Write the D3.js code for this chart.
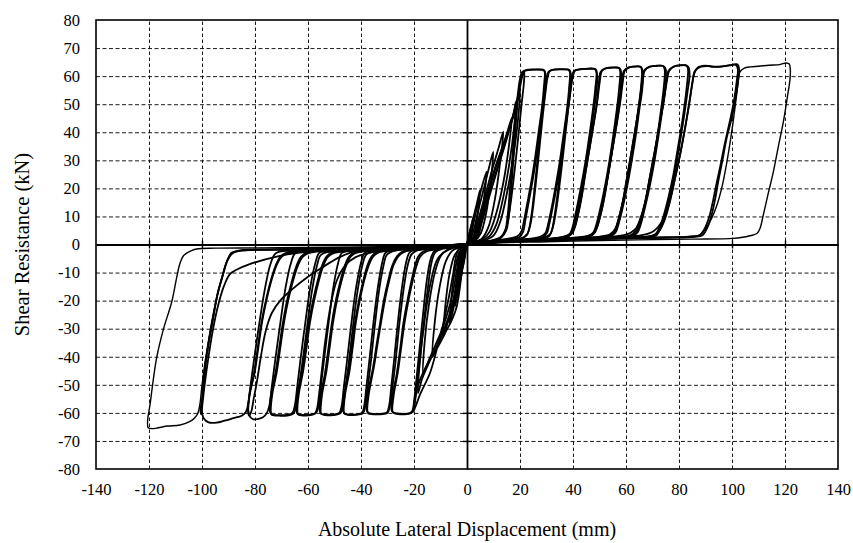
<!DOCTYPE html>
<html>
<head>
<meta charset="utf-8">
<script src="https://cdn.jsdelivr.net/npm/d3@7"></script>
<style>
    body { margin: 0; background: #fff; }
    text { font-family: "Liberation Serif", "Times New Roman", serif; fill: #000; }
</style>
</head>
<body>
<div id="chart"></div>
<script>
//Ticks
let xTicks = [-140, -120, -100, -80, -60, -40, -20, 0, 20, 40, 60, 80, 100, 120, 140];
let yTicks = [-80, -70, -60, -50, -40, -30, -20, -10, 0, 10, 20, 30, 40, 50, 60, 70, 80];

//Ciclos pequeños cerca del origen [desplazamiento mm, fuerza kN]
let loopSmall1 = [[0,0],[0.8,3.5],[1.7,7],[2.5,10],[2.1,6],[1.4,2.5],[0.6,0.8],[0,0],[-0.5,-2.5],[-1,-5.5],[-1.5,-8],[-1.2,-5],[-0.6,-2],[0,0]];
let loopSmall2 = [[0,0],[1,4.5],[2.5,10],[3.8,15],[4.9,19.4],[4.3,13],[3.3,6],[2.2,2.2],[1,0.8],[0,0],[-0.8,-4],[-1.8,-9],[-3,-15],[-2.6,-9],[-1.9,-4],[-1,-1.2],[0,0]];
let loopSmall3 = [[0,0.3],[1.5,4],[3,10],[4.3,15.5],[5.6,20.5],[7.4,26],[6.6,18],[5.2,9],[3.6,3.5],[2,1.2],[0,0],[-1,-4],[-2,-10],[-3.3,-16.5],[-4.5,-22],[-4,-14],[-3,-6.5],[-1.8,-2],[0,-0.3]];
let loopSmall4 = [[0,0.3],[2,3.5],[3.5,9],[5,15],[6.5,20.5],[8.2,27],[9.9,33],[9,23],[7.2,11],[5.2,4],[3,1.3],[0,0],[-1.2,-4],[-2.5,-11],[-4,-18],[-5.3,-23.5],[-6.5,-28],[-5.8,-18],[-4.3,-8],[-2.8,-2.5],[-1,-0.8],[0,0]];
let loopSmall5 = [[0,0.3],[2.5,3],[4,8],[5.8,14],[7.6,20],[9.6,27],[11.8,34],[13.7,40.2],[12.6,30],[10.5,16],[8,6],[5.5,2],[2.5,0.8],[0,0],[-1.5,-3],[-2.7,-10],[-4,-17],[-5.8,-23.5],[-7.5,-28.5],[-9,-33],[-8.2,-22],[-6.5,-10],[-4.5,-3.5],[-2,-1],[0,0]];
let loopSmall6 = [[0,0.3],[3,2.5],[4.5,7],[6.5,13.5],[8.5,20],[10.5,26.5],[12.8,33],[15,39.5],[16.9,45],[15.8,35],[13.7,22],[11,11],[8.5,4.5],[6,2],[3,1],[0,0],[-2,-2.5],[-3.2,-9],[-4.6,-17],[-6.5,-24.5],[-8.8,-30.5],[-11,-35.5],[-13,-40],[-12.2,-28],[-10.3,-15],[-8,-6],[-5.5,-2.2],[-2.5,-1],[0,0]];
let loopSmall7 = [[0,0.3],[3.5,2.5],[5,7],[7,13.5],[9.2,20.5],[11.5,27.5],[13.8,34.5],[16,41.5],[17.5,46.5],[18.5,51],[17.8,42],[16,29],[13.5,16],[11,7],[8.5,3],[5,1.3],[0,0],[-2.5,-2.5],[-3.8,-9],[-5.3,-17],[-7.2,-24],[-9.5,-30.5],[-12,-36],[-14.5,-41.5],[-16.5,-46],[-16,-35],[-14.3,-21],[-12,-9.5],[-9.5,-3.5],[-5.5,-1.3],[0,0]];
let loopSmall8 = [[0,0.3],[3.8,2.5],[5.5,7.5],[7.6,14.5],[9.8,21.5],[12.2,29],[14.5,36],[16.6,43],[18.4,49.5],[20,55],[19.4,46],[17.6,32],[15,18],[12.5,8],[10,3.2],[6,1.3],[0,0],[-2.2,-3],[-3.3,-11],[-4.8,-19.5],[-6.8,-26.5],[-9.5,-32.5],[-12.3,-38],[-15,-43.5],[-17,-48],[-18.5,-53],[-17.8,-42],[-16,-27],[-13.6,-13],[-11,-5],[-7,-1.7],[0,0]];

//Ciclos grandes (primer ciclo de cada amplitud)
let loop20 = [[0,0],[2.5,1.5],[4,6],[6,13],[8.5,21],[11,28.5],[13.5,35],[15.8,41],[17.6,46],[19,51.5],[20.2,57],[21,60.5],[21.6,61.8],
    [21.5,58],[20.6,50],[19.3,38],[17.8,25],[16.2,13],[14.6,5.5],[12.5,2.5],[9,1.4],[5,0.9],[2,0.4],[0,0],
    [-0.8,-2],[-2,-10.3],[-3.9,-22.2],[-6,-27.5],[-7.7,-30.5],[-11,-36.5],[-14,-41],[-16.5,-45.5],[-18.4,-50],[-19.6,-55],[-20.3,-59.6],
    [-17.5,-53],[-14,-45.9],[-11.3,-37],[-8.9,-28],[-6.9,-19],[-5.2,-10.3],[-4.3,-5],[-3.3,-2],[-1.5,-0.8],[0,0]];
let loop30 = [[0,0],[4,0.7],[9,1.1],[12.5,2.2],[14.3,4.6],[15.3,10],[16.2,20],[17.2,32],[18.1,43.8],[19.1,53],[20,59],[20.8,61.4],[22.5,62.2],[25,62.4],[27.5,62.4],[29,62.2],[29.6,61],
    [29.5,56],[28.8,49.7],[27.6,41],[26.3,31.9],[24.7,22.5],[23.1,14.1],[22,8.5],[21.2,4.6],[19.8,2.7],[16,1.8],[10,1.2],[5,0.8],[0,0.2],
    [-4,-0.8],[-9,-1.2],[-12.3,-2.3],[-13.8,-5.5],[-15.2,-13],[-16.6,-25],[-18,-38],[-19.2,-49],[-20,-56],[-20.6,-59.2],[-22,-60.2],[-25,-60.3],[-27.5,-60],[-28.4,-59.3],
    [-28.1,-54],[-26.5,-45.9],[-25.2,-37],[-24,-28],[-22.5,-20],[-20.9,-12.7],[-19.6,-7.5],[-18.4,-4.3],[-16.5,-2.5],[-13,-1.7],[-8,-1.1],[-3,-0.5],[0,0]];
let loop38 = [[0,0],[6,0.8],[14,1.3],[20,1.9],[22.5,3.2],[23.4,5.5],[24.4,11],[25.5,20],[26.8,32],[28,43.5],[29.2,53],[30,59],[30.8,61.6],[32.5,62.3],[35,62.5],[37.5,62.4],[38.7,62.2],[39.2,60.5],
    [39,55],[38.2,48.5],[36.9,39.5],[35.5,30],[33.8,20.5],[32.2,12.5],[31,7],[30.2,4.2],[28.5,2.6],[24,1.9],[16,1.4],[8,0.9],[0,0.2],
    [-6,-0.8],[-14,-1.3],[-20,-1.8],[-21.8,-3],[-23,-6.5],[-24.5,-15],[-26,-27],[-27.4,-40],[-28.6,-51],[-29.4,-57.5],[-30.2,-59.8],[-32,-60.3],[-35,-60.4],[-37,-60.1],[-37.8,-59.3],
    [-37.5,-54],[-35.4,-43.5],[-34,-35],[-32.8,-28],[-31.3,-19.5],[-29.7,-12.7],[-28.2,-7.5],[-26.5,-4.3],[-24.5,-2.6],[-20,-1.8],[-12,-1.2],[-5,-0.7],[0,0]];
let loop48 = [[0,0],[8,0.9],[18,1.4],[28,2],[31,3],[32,5],[33,10],[34.3,19],[35.8,31],[37.3,43],[38.6,53],[39.5,59],[40.3,61.8],[42.5,62.4],[45,62.6],[47.5,62.6],[48.6,62.4],[49.1,60.5],
    [48.9,55],[48,48.5],[46.7,39.5],[45.2,30],[43.4,20.5],[41.7,12.5],[40.4,7],[39.5,4.2],[37.5,2.7],[32,2],[22,1.5],[10,1],[0,0.2],
    [-8,-0.9],[-18,-1.4],[-28,-1.9],[-30.8,-3],[-32,-6.5],[-33.6,-15],[-35.2,-27],[-36.7,-40],[-38,-51],[-38.8,-57.5],[-39.6,-60],[-41.5,-60.5],[-44,-60.6],[-46,-60.3],[-46.7,-59.5],
    [-46.4,-54],[-44.8,-45.9],[-43.5,-37],[-42.3,-28],[-40.7,-19.5],[-39.1,-12.7],[-37.6,-7.5],[-36,-4.3],[-34,-2.7],[-28,-1.9],[-18,-1.3],[-8,-0.8],[0,0]];
let loop57 = [[0,0],[10,1],[22,1.5],[34,2.1],[38.5,3],[40.1,4.6],[41.3,8.5],[42.6,14.1],[44.2,23],[45.8,31.9],[47.4,41],[48.9,49.7],[49.7,57],[50.4,61.5],[52,62.7],[55,63],[57,63],[57.9,62.4],[58.2,60],
    [57.9,55],[57,48.5],[55.7,39.5],[54.2,30],[52.4,20.5],[50.6,12.5],[49.2,7],[48.2,4.2],[46,2.7],[40,2.1],[28,1.6],[14,1.1],[0,0.2],
    [-10,-1],[-22,-1.5],[-35,-2],[-38.6,-3],[-40,-6.5],[-41.8,-15],[-43.5,-27],[-45.1,-40],[-46.5,-51],[-47.3,-57.5],[-48.2,-60],[-50.5,-60.6],[-53,-60.6],[-55,-60.3],[-55.5,-59.5],
    [-55.2,-54],[-53.6,-45.9],[-52.3,-37],[-51,-28],[-49.4,-19.5],[-47.7,-12.7],[-46.1,-7.5],[-44.5,-4.3],[-42.3,-2.8],[-35,-2],[-22,-1.4],[-10,-0.9],[0,0]];
let loop65 = [[0,0],[12,1],[25,1.6],[40,2.2],[46.5,3],[48.5,4.8],[49.8,8.5],[51.2,14],[52.9,23],[54.5,32],[56.1,41],[57.6,50],[58.4,57],[59.2,61.8],[61,63.1],[63.5,63.4],[65.3,63.4],[66.1,62.6],[66.4,60],
    [66.1,55],[65.1,48.5],[63.8,39.5],[62.2,30],[60.4,20.5],[58.6,12.5],[57.1,7],[56,4.2],[53.7,2.8],[47,2.2],[34,1.7],[16,1.1],[0,0.2],
    [-12,-1],[-26,-1.5],[-42,-2],[-47.2,-3],[-48.6,-6.5],[-50.4,-15],[-52.1,-27],[-53.8,-40],[-55.2,-51],[-56,-57.5],[-56.9,-60],[-59,-60.6],[-62,-60.7],[-63.8,-60.4],[-64.3,-59.6],
    [-64,-54],[-62.4,-45.9],[-61,-37],[-59.7,-28],[-58,-19.5],[-56.3,-12.7],[-54.7,-7.5],[-53,-4.3],[-50.8,-2.8],[-42,-2],[-28,-1.4],[-12,-0.9],[0,0]];
let loop75 = [[0,0],[14,1],[30,1.7],[47,2.3],[53.5,3.1],[55.6,4.8],[57,8.5],[58.5,14],[60.2,23],[61.9,32],[63.5,41],[65,50],[65.9,57],[66.7,61.8],[68.5,63.2],[71,63.6],[73.5,63.7],[74.8,63],[75.1,60],
    [74.8,55],[73.8,48.5],[72.4,39.5],[70.8,30],[68.9,20.5],[67,12.5],[65.5,7],[64.3,4.2],[62,2.8],[55,2.3],[40,1.8],[20,1.2],[0,0.2],
    [-14,-1],[-30,-1.5],[-49,-2],[-55.7,-3],[-57.2,-6.5],[-59.1,-15],[-60.9,-27],[-62.7,-40],[-64.1,-51],[-65,-57.5],[-65.9,-60],[-68,-60.7],[-71,-60.8],[-73.6,-60.6],[-74.3,-59.8],
    [-74,-54],[-72.3,-45.9],[-70.9,-37],[-69.5,-28],[-67.8,-19.5],[-66,-12.7],[-64.3,-7.5],[-62.6,-4.3],[-60.2,-2.8],[-50,-2],[-34,-1.4],[-14,-0.9],[0,0]];
let loop84 = [[0,0],[16,1.1],[34,1.8],[52,2.4],[61.5,3.2],[63.8,5],[65.3,8.5],[67,14],[68.8,23],[70.6,32],[72.3,41],[74,50],[75,57],[76,61.8],[78,63.4],[80.5,63.8],[82.5,63.9],[83.6,63.2],[84,60.4],
    [83.3,55],[82.5,49.5],[81.6,43.8],[80.1,35],[78.5,25.9],[76.6,17.5],[74.7,10.5],[73.2,6.2],[71.6,3.4],[69,2.6],[60,2.3],[45,1.9],[22,1.3],[0,0.2],
    [-16,-1],[-34,-1.5],[-56,-2],[-64.7,-3],[-66.4,-6.5],[-68.4,-15],[-70.3,-27],[-72.2,-40],[-73.7,-51],[-74.6,-57.5],[-75.5,-60],[-77,-61.6],[-79,-62.2],[-80.6,-62.3],[-81.8,-61.5],[-82.5,-59.3],
    [-82.2,-54],[-80.4,-45.9],[-79,-37],[-77.6,-28],[-75.8,-19.5],[-74,-12.7],[-72.2,-7.5],[-70.4,-4.3],[-67.8,-2.8],[-58,-2],[-38,-1.4],[-16,-0.9],[0,0]];
let loop102 = [[0,0],[18,1.1],[38,1.9],[58,2.5],[70,3.2],[72.5,4.8],[74.5,8.5],[76.5,15],[78.6,24],[80.6,33],[82.4,42],[84,51],[85,57.5],[86,61.8],[88,63.3],[91,63.6],[94,63.4],[97,63.6],[100,64],[102,64.2],[102.7,62.5],
    [102.5,60],[101.5,53],[100,45.5],[98,38],[96.4,30],[94.8,22.4],[93.5,15.5],[92.3,10.5],[90.7,6],[89,3.4],[86,2.7],[75,2.4],[55,2.1],[30,1.5],[0,0.2],
    [-18,-1],[-38,-1.5],[-60,-2.1],[-72,-3],[-74,-6.5],[-76.1,-15],[-78.2,-27],[-80.2,-40],[-81.8,-51],[-82.6,-57],[-83.5,-59.8],[-85,-61],[-88.2,-61.9],[-91.5,-62.8],[-94.5,-63.5],[-97.5,-63.4],[-99.3,-62],[-100.1,-59],
    [-99.8,-54],[-98.9,-44],[-97.5,-35],[-95.7,-25.5],[-94,-17],[-92,-10.5],[-90.3,-5.5],[-88.5,-3],[-85,-2],[-72,-1.7],[-50,-1.4],[-20,-0.9],[0,0]];
let loop122 = [[0,0],[20,1.2],[45,1.9],[70,2.5],[84,2.9],[88,3.4],[90.3,6],[92.3,9.3],[94.3,14],[96.1,20],[98,29],[99.9,40.2],[101.3,50],[102.3,57.5],[103,61.5],[104.5,62.8],[107,63.3],[110,63.5],[114,63.9],[118,64.1],[120.5,64.7],[121.6,64.3],[122,62.5],
    [121.9,59],[120.8,52],[119.4,43.8],[117.5,35],[115.6,25.9],[113.5,17.5],[111.8,10.5],[110.6,5.8],[109.5,4],[108,3.4],[104,2.6],[100.5,2.2],[85,1.9],[60,1.6],[30,1],[0,0.2],
    [-20,-0.9],[-45,-1.4],[-70,-1.9],[-85,-2.2],[-89,-3],[-90.6,-6],[-92,-10],[-93.9,-17],[-95.7,-24.5],[-97.4,-33.5],[-98.9,-42.3],[-100.1,-51],[-100.8,-57],[-101.6,-60.2],[-102.8,-61.8],[-104.5,-63],[-108.3,-64.3],[-113,-64.7],[-116.5,-65.3],[-119,-65.6],[-120.3,-65.3],[-120.5,-62.5],
    [-119.6,-57],[-118.5,-49],[-117.1,-40.3],[-114.5,-30],[-111.4,-20.4],[-109.6,-12],[-108.3,-6.7],[-107,-4],[-105.8,-3.1],[-104,-2.2],[-102,-1.6],[-95,-1.3],[-80,-1.2],[-50,-1],[-20,-0.6],[0,0]];

//Ciclos repetidos de cada amplitud
let loop30b = [[0,0],[5,0.9],[10,1.4],[13,2.6],[14.8,5],[15.9,11],[16.8,21],[17.7,33],[18.6,45],[19.5,54],[20.3,59.5],[21.2,61.6],[23,62.1],[26,62.3],[28.3,62.2],[29.2,61.8],
    [29,56],[28.3,49],[27,40],[25.7,31],[24.2,22],[22.6,14],[21.5,8.5],[20.6,4.8],[19,2.9],[15,2],[9,1.3],[4,0.8],[0,0.2],
    [-4,-0.9],[-9,-1.5],[-12,-2.8],[-13.4,-6.5],[-14.7,-15],[-16.2,-27],[-17.7,-40],[-18.9,-50],[-19.7,-56.5],[-20.4,-59.5],[-22,-60.4],[-25,-60.5],[-27.3,-60.2],[-28.1,-59.5],
    [-27.7,-54],[-26.1,-45.5],[-24.8,-36.5],[-23.5,-27.5],[-22,-19.5],[-20.4,-12.5],[-19,-7.5],[-17.8,-4.5],[-15.5,-2.6],[-12,-1.8],[-7,-1.2],[-3,-0.6],[0,0]];
let loop38b = [[0,0],[7,1],[15,1.5],[20.5,2.2],[22.8,3.8],[23.9,7],[24.9,13],[26,22],[27.3,34],[28.5,45],[29.6,54],[30.4,59.5],[31.3,61.9],[33,62.3],[36,62.4],[38.2,62.3],[38.8,61.5],
    [38.5,55.5],[37.7,48],[36.4,39],[35,29.5],[33.3,20],[31.7,12],[30.5,6.8],[29.6,4.1],[27.8,2.8],[23,2],[15,1.5],[7,1],[0,0.2],
    [-6,-1],[-13,-1.5],[-19,-2.2],[-21,-3.6],[-22.4,-7.5],[-24,-16.5],[-25.6,-29],[-27,-42],[-28.3,-52],[-29.2,-58],[-30,-60],[-32.5,-60.5],[-35.5,-60.5],[-37.2,-60.2],[-37.6,-59.3],
    [-37.1,-53.5],[-35,-43],[-33.6,-34.5],[-32.3,-27],[-30.8,-19],[-29.2,-12.3],[-27.7,-7.3],[-26,-4.3],[-23.8,-2.7],[-19,-1.9],[-11,-1.3],[-5,-0.8],[0,0]];
let loop48b = [[0,0],[9,1],[19,1.6],[28.5,2.3],[31.3,3.6],[32.5,6.5],[33.6,12],[34.9,21],[36.4,33],[37.8,45],[39,54],[39.9,59.5],[40.8,62],[43,62.5],[46,62.7],[48.1,62.6],[48.8,61.5],
    [48.4,55.5],[47.5,48],[46.2,39],[44.7,29.5],[42.9,20],[41.2,12],[40,6.8],[39,4.1],[37,2.9],[31,2.1],[21,1.6],[9,1.1],[0,0.2],
    [-8,-1],[-17,-1.5],[-27,-2.2],[-30.2,-3.6],[-31.5,-7.5],[-33.2,-16.5],[-34.8,-29],[-36.3,-42],[-37.6,-52],[-38.5,-58],[-39.3,-60.2],[-42,-60.7],[-45,-60.7],[-46.3,-60.3],[-46.5,-59.5],
    [-46,-53.5],[-44.4,-45.5],[-43.1,-36.5],[-41.9,-27.5],[-40.3,-19.2],[-38.7,-12.5],[-37.1,-7.5],[-35.5,-4.4],[-33.3,-2.8],[-27,-2],[-17,-1.4],[-8,-0.9],[0,0]];
let loop57b = [[0,0],[11,1.1],[23,1.7],[34.5,2.4],[38.8,3.6],[40.6,6],[41.9,10.5],[43.3,17],[44.8,26],[46.4,35],[48,44],[49.3,52],[50.1,58],[50.9,61.8],[52.5,62.8],[55.5,63.1],[57.3,62.9],[57.8,61.8],
    [57.4,55.5],[56.5,48],[55.2,39],[53.7,29.5],[51.9,20],[50.1,12],[48.7,6.8],[47.6,4.2],[45.3,2.9],[39,2.2],[27,1.7],[13,1.1],[0,0.2],
    [-10,-1.1],[-21,-1.6],[-34,-2.2],[-38,-3.6],[-39.5,-7.5],[-41.3,-16.5],[-43,-29],[-44.6,-42],[-46,-52],[-46.9,-58],[-47.8,-60.2],[-50.5,-60.8],[-53.5,-60.8],[-55,-60.4],[-55.2,-59.6],
    [-54.7,-53.5],[-53.1,-45.5],[-51.8,-36.5],[-50.5,-27.5],[-48.9,-19.2],[-47.2,-12.5],[-45.6,-7.5],[-44,-4.4],[-41.6,-2.9],[-34,-2.1],[-21,-1.5],[-10,-1],[0,0]];
let loop65b = [[0,0],[13,1.1],[26,1.8],[41,2.5],[47,3.6],[49,6],[50.4,10.5],[51.9,17],[53.5,26],[55.1,35],[56.7,44],[58,52],[58.8,58],[59.6,62],[61.5,63.2],[64,63.5],[65.6,63.3],[66,62],
    [65.6,55.5],[64.6,48],[63.3,39],[61.7,29.5],[59.9,20],[58.1,12],[56.6,6.8],[55.5,4.2],[53,3],[46,2.3],[33,1.8],[15,1.2],[0,0.2],
    [-12,-1.1],[-25,-1.7],[-36,-2.8],[-42,-4.5],[-46,-7.5],[-49.2,-13],[-51.5,-22],[-53.3,-33],[-54.8,-45],[-55.9,-54],[-56.6,-58.5],[-57.5,-60.3],[-60,-60.9],[-62.5,-60.9],[-63.8,-60.5],[-64,-59.6],
    [-63.5,-53.5],[-61.9,-45.5],[-60.5,-36.5],[-59.2,-27.5],[-57.5,-19.2],[-55.8,-12.5],[-54.2,-7.5],[-52.5,-4.4],[-50,-3],[-41,-2.1],[-27,-1.5],[-12,-1],[0,0]];
let loop75b = [[0,0],[15,1.1],[31,1.9],[48,2.6],[54,3.6],[56.2,6],[57.6,10.5],[59.2,17],[60.8,26],[62.4,35],[64,44],[65.4,52],[66.3,58],[67.1,62],[69,63.4],[71.5,63.7],[74,63.6],[74.6,62.3],
    [74.2,55.5],[73.2,48],[71.9,39],[70.3,29.5],[68.4,20],[66.5,12],[65,6.8],[63.8,4.2],[61.3,3],[54,2.4],[39,1.9],[19,1.3],[0,0.2],
    [-14,-1.1],[-29,-1.6],[-48,-2.3],[-55,-3.6],[-56.6,-7.5],[-58.5,-16.5],[-60.3,-29],[-62.1,-42],[-63.6,-52],[-64.6,-58],[-65.5,-60.3],[-68,-61],[-71,-61],[-73.5,-60.8],[-74,-59.8],
    [-73.5,-53.5],[-71.8,-45.5],[-70.4,-36.5],[-69,-27.5],[-67.3,-19.2],[-65.5,-12.5],[-63.8,-7.5],[-62,-4.4],[-59.5,-3],[-49,-2.1],[-33,-1.5],[-14,-1],[0,0]];
let loop84b = [[0,0],[17,1.2],[35,2],[53,2.7],[60,3.5],[63.5,5.5],[65.5,9.5],[67.4,16],[69.2,25],[71,34],[72.7,43],[74.3,51.5],[75.4,58],[76.4,62],[78.5,63.6],[81,63.9],[82.9,63.7],[83.4,62.5],
    [82.9,56],[82,49],[81,42.5],[79.5,34],[77.9,25],[76,16.8],[74.1,10],[72.6,6],[71,3.6],[68,2.8],[59,2.4],[44,2],[21,1.4],[0,0.2],
    [-16,-1.1],[-30,-1.6],[-41.6,-2.2],[-48,-4.5],[-54.2,-7.9],[-60,-11.5],[-66,-16],[-70.5,-20],[-73.7,-24.5],[-76,-31],[-77.8,-40],[-79.3,-49],[-80.5,-55],[-81.4,-59.5],[-82.2,-61],[-82.6,-59.5],
    [-82,-53.5],[-80.1,-45.5],[-78.7,-36.5],[-77.3,-27.5],[-75.5,-19.2],[-73.7,-12.5],[-71.9,-7.5],[-70,-4.4],[-67.3,-3],[-57,-2.1],[-37,-1.5],[-16,-1],[0,0]];
let loop102b = [[0,0],[19,1.2],[39,2],[57,2.7],[66,3.3],[70.5,4.8],[73.5,8],[75.9,13.5],[78,21.5],[80.1,30.5],[82,40],[83.7,49.5],[84.9,56.5],[85.8,61],[87,63],[90,63.7],[93,63.3],[96,63.4],[99,63.8],[101.5,64],[102.2,62.5],
    [101.9,59],[100.7,51],[99.2,44],[97.3,36],[95.6,28],[94,21],[92.6,14.5],[91.3,9.5],[89.6,5.5],[87.8,3.3],[84,2.8],[73,2.5],[53,2.2],[29,1.6],[0,0.2],
    [-18,-1.1],[-40,-1.7],[-60,-2.5],[-71.8,-4.3],[-82,-7],[-87,-9],[-89.4,-10.5],[-91.8,-15],[-94,-22],[-96,-31],[-97.7,-41],[-99,-50],[-99.8,-56.5],[-100.3,-60.5],[-100.6,-59],
    [-99.9,-55],[-99,-45],[-97.7,-36],[-95.9,-26.5],[-94.2,-18],[-92.3,-11.5],[-90.6,-6],[-88.7,-3.3],[-85,-2.2],[-72,-1.8],[-50,-1.5],[-20,-1],[0,0]];

let loops = [loopSmall1, loopSmall2, loopSmall3, loopSmall4, loopSmall5, loopSmall6, loopSmall7, loopSmall8,
    loop20, loop30, loop38, loop48, loop57, loop65, loop75, loop84, loop102, loop122,
    loop30b, loop38b, loop48b, loop57b, loop65b, loop75b, loop84b, loop102b];

//Creación del elemento SVG
let margin = {top: 20, right: 15, bottom: 74, left: 96};
let width = 853 - margin.left - margin.right,
    height = 543 - margin.top - margin.bottom;

let svg = d3.select('#chart')
    .append('svg')
    .attr('width', 853)
    .attr('height', 543);

let chart = svg.append('g')
    .attr('transform', 'translate(' + margin.left + ',' + margin.top + ')');

//Escalas
let x = d3.scaleLinear().domain([-140, 140]).range([0, width]);
let y = d3.scaleLinear().domain([-80, 80]).range([height, 0]);

//Rejilla discontinua
chart.append('g')
    .attr('transform', 'translate(0,' + height + ')')
    .call(d3.axisBottom(x).tickValues(xTicks.filter(d => d !== 0 && Math.abs(d) !== 140)).tickSize(-height).tickFormat(''))
    .call(g => g.select('.domain').remove())
    .call(g => g.selectAll('.tick line').attr('stroke', '#000').attr('stroke-width', 0.9).attr('stroke-dasharray', '3.5,2.5'));

chart.append('g')
    .call(d3.axisLeft(y).tickValues(yTicks.filter(d => d !== 0 && Math.abs(d) !== 80)).tickSize(-width).tickFormat(''))
    .call(g => g.select('.domain').remove())
    .call(g => g.selectAll('.tick line').attr('stroke', '#000').attr('stroke-width', 0.9).attr('stroke-dasharray', '4,2.5'));

//Etiquetas de los ejes
let xLabels = chart.append('g')
    .attr('transform', 'translate(0,' + height + ')')
    .call(d3.axisBottom(x).tickValues(xTicks).tickSize(0).tickPadding(14).tickFormat(d => String(d)));
xLabels.select('.domain').remove();
xLabels.selectAll('text').style('font-size', '16.5px').style('font-family', '"Liberation Serif", serif');

let yLabels = chart.append('g')
    .call(d3.axisLeft(y).tickValues(yTicks).tickSize(0).tickPadding(16).tickFormat(d => String(d)));
yLabels.select('.domain').remove();
yLabels.selectAll('text').style('font-size', '16.5px').style('font-family', '"Liberation Serif", serif');

//Ejes en el cero con marcas
let xZero = chart.append('g')
    .attr('transform', 'translate(0,' + y(0) + ')')
    .call(d3.axisBottom(x).tickValues(xTicks.filter(d => Math.abs(d) !== 140)).tickSize(4).tickSizeOuter(0).tickFormat(''));
xZero.select('.domain').attr('stroke', '#000').attr('stroke-width', 1.8);
xZero.selectAll('.tick line').attr('y1', -4).attr('stroke-width', 1.4);

let yZero = chart.append('g')
    .attr('transform', 'translate(' + x(0) + ',0)')
    .call(d3.axisLeft(y).tickValues(yTicks.filter(d => Math.abs(d) !== 80)).tickSize(4).tickSizeOuter(0).tickFormat(''));
yZero.select('.domain').attr('stroke', '#000').attr('stroke-width', 1.8);
yZero.selectAll('.tick line').attr('x1', 5).attr('stroke-width', 1.4);

//Marco del área de trazado
chart.append('rect')
    .attr('width', width)
    .attr('height', height)
    .attr('fill', 'none')
    .attr('stroke', '#000')
    .attr('stroke-width', 1.6);

//Curvas de histéresis
let line = d3.line()
    .x(d => x(d[0]))
    .y(d => y(d[1]))
    .curve(d3.curveCatmullRom.alpha(0.5));

chart.selectAll('.loop')
    .data(loops)
    .enter()
    .append('path')
    .attr('class', 'loop')
    .attr('d', line)
    .attr('fill', 'none')
    .attr('stroke', '#000')
    .attr('stroke-linejoin', 'round')
    .attr('stroke-width', d => d === loop122 ? 1.4 : 1.8);

//Títulos
svg.append('text')
    .attr('x', margin.left + width / 2)
    .attr('y', 536)
    .attr('text-anchor', 'middle')
    .style('font-size', '20px')
    .text('Absolute Lateral Displacement (mm)');

svg.append('text')
    .attr('transform', 'translate(29,' + (margin.top + height / 2) + ') rotate(-90)')
    .attr('text-anchor', 'middle')
    .style('font-size', '20.5px')
    .text('Shear Resistance (kN)');
</script>
</body>
</html>
